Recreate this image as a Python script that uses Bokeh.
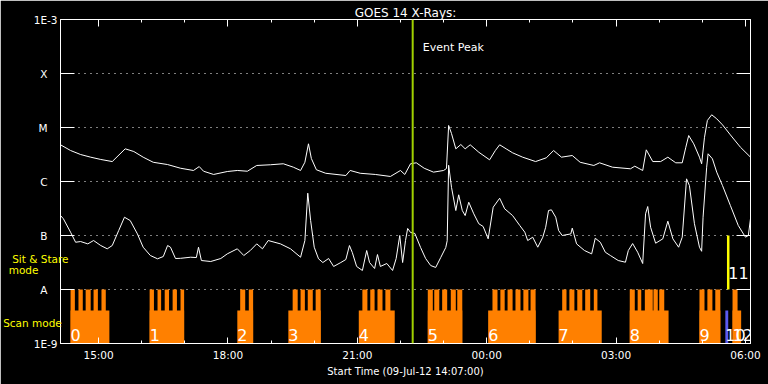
from bokeh.plotting import figure
from bokeh.models import (FixedTicker, LinearAxis, LogAxis, Label, LabelSet,
                          ColumnDataSource, Span, BasicTickFormatter)
from bokeh.embed import file_html
from bokeh.resources import INLINE
from bokeh.core.properties import value

FONT = "DejaVu Sans"

# ---------------- data ----------------
START = "14:07"
END = "06:07"
EVENT_PEAK = "22:17"

# GOES 1-8 A (upper curve), W/m^2
up_t = ["14:07","14:21","14:35","14:49","15:03","15:19","15:37","15:49","16:02","16:16",
        "16:36","16:54","17:12","17:20","17:26","17:40","17:59","18:13","18:27","18:40",
        "18:59","19:17","19:31","19:41","19:47","19:52","19:56","20:03","20:16","20:44",
        "20:50","21:04","21:25","21:46","22:00","22:06","22:14","22:22","22:33","22:46",
        "23:00","23:04","23:07","23:11","23:17","23:24","23:30","23:37","23:49","00:04",
        "00:12","00:18","00:27","00:36","00:50","01:08","01:23","01:33","01:44","01:59",
        "02:10","02:29","02:37","02:55","03:20","03:26","03:37","03:42","03:51","04:02",
        "04:12","04:23","04:32","04:37","04:41","04:48","04:56","04:59","05:03","05:07",
        "05:13","05:20","05:28","05:39","05:53","06:07"]
up_v = [4.78e-6,3.75e-6,3.16e-6,2.82e-6,2.56e-6,2.34e-6,4.03e-6,3.59e-6,2.82e-6,2.27e-6,
        2.06e-6,1.76e-6,1.60e-6,1.89e-6,1.55e-6,1.35e-6,1.53e-6,1.60e-6,1.55e-6,1.98e-6,
        2.04e-6,2.13e-6,1.84e-6,1.60e-6,2.27e-6,4.99e-6,2.67e-6,1.65e-6,1.42e-6,1.29e-6,
        1.60e-6,1.42e-6,1.35e-6,1.24e-6,1.60e-6,1.35e-6,2.13e-6,2.22e-6,1.76e-6,1.49e-6,
        1.60e-6,1.74e-6,1.09e-5,7.73e-6,4.03e-6,4.84e-6,4.03e-6,4.78e-6,3.48e-6,2.52e-6,
        3.75e-6,4.78e-6,4.03e-6,3.40e-6,2.82e-6,2.34e-6,2.75e-6,3.75e-6,2.82e-6,3.03e-6,
        2.27e-6,1.98e-6,2.22e-6,1.84e-6,1.72e-6,1.92e-6,1.60e-6,3.86e-6,2.34e-6,2.34e-6,
        2.82e-6,2.22e-6,2.22e-6,4.31e-6,7.10e-6,4.99e-6,2.82e-6,2.13e-6,6.60e-6,1.35e-5,
        1.72e-5,1.45e-5,1.12e-5,7.30e-6,4.31e-6,2.82e-6]

# GOES 0.5-4 A (lower curve), W/m^2
lo_t = ["14:07","14:11","14:21","14:28","14:35","14:45","14:53","15:03","15:12","15:19",
        "15:28","15:36","15:44","15:54","16:02","16:12","16:22","16:30","16:36","16:40",
        "16:47","16:54","17:08","17:16","17:19","17:23","17:36","17:50","17:59","18:13",
        "18:22","18:31","18:40","18:48","18:56","19:13","19:27","19:41","19:47","19:51",
        "19:55","20:00","20:06","20:12","20:20","20:27","20:37","20:44","20:49","20:53",
        "20:59","21:07","21:13","21:17","21:24","21:28","21:32","21:41","21:49","21:54",
        "21:59","22:03","22:07","22:10","22:14","22:20","22:28","22:35","22:42","22:49",
        "22:56","23:03","23:05","23:07","23:11","23:17","23:21","23:26","23:30","23:35",
        "23:42","23:49","23:55","00:02","00:09","00:18","00:25","00:36","00:46","00:53",
        "00:57","01:04","01:11","01:18","01:22","01:26","01:30","01:36","01:40","01:45",
        "01:57","01:59","02:05","02:16","02:26","02:31","02:38","02:45","02:52","03:03",
        "03:13","03:17","03:23","03:30","03:37","03:41","03:44","03:48","03:55","04:05",
        "04:12","04:19","04:27","04:32","04:38","04:42","04:49","04:56","04:59","05:01",
        "05:06","05:08","05:14","05:20","05:28","05:39","05:50","06:00","06:04","06:07"]
lo_v = [2.34e-7,2.04e-7,1.15e-7,7.5e-8,7.73e-8,7.0e-8,8.07e-8,6.52e-8,5.67e-8,6.52e-8,
        1.24e-7,2.18e-7,1.89e-7,1.07e-7,6.07e-8,4.26e-8,3.70e-8,4.08e-8,6.52e-8,6.07e-8,
        3.75e-8,3.78e-8,3.96e-8,3.91e-8,6.07e-8,3.44e-8,3.30e-8,3.75e-8,4.57e-8,5.67e-8,
        4.26e-8,5.27e-8,7.0e-8,5.67e-8,8.07e-8,7.0e-8,5.67e-8,3.96e-8,8.07e-8,6.07e-7,
        1.89e-7,6.07e-8,3.70e-8,3.16e-8,3.75e-8,2.67e-8,3.16e-8,3.59e-8,6.52e-8,4.84e-8,
        2.67e-8,2.25e-8,5.27e-8,3.16e-8,2.45e-8,4.44e-8,2.67e-8,3.03e-8,2.25e-8,3.75e-8,
        1.0e-7,3.16e-8,8.07e-8,1.35e-7,1.14e-7,1.09e-7,5.99e-8,3.75e-8,2.78e-8,2.56e-8,
        3.91e-8,5.99e-8,8.0e-8,2.0e-6,7.8e-7,2.90e-7,5.67e-7,2.90e-7,2.34e-7,4.13e-7,
        2.52e-7,1.65e-7,1.47e-7,8.68e-8,3.34e-7,4.9e-7,3.12e-7,2.34e-7,1.53e-7,1.15e-7,
        8.07e-8,9.3e-8,6.07e-8,9.3e-8,1.42e-7,2.90e-7,2.99e-7,2.18e-7,1.24e-7,1.0e-7,
        1.07e-7,1.37e-7,7.0e-8,5.27e-8,4.57e-8,8.9e-8,7.5e-8,4.9e-8,4.26e-8,3.44e-8,
        3.2e-8,5.27e-8,7.10e-8,4.9e-8,3.03e-8,2.52e-7,3.44e-7,1.42e-7,7.2e-8,8.68e-8,
        1.84e-7,8.68e-8,6.07e-8,9.3e-8,1.12e-6,8.42e-7,1.65e-7,6.07e-8,5.1e-8,2.18e-7,
        1.84e-6,3.26e-6,2.63e-6,1.49e-6,8.42e-7,3.59e-7,1.53e-7,9.3e-8,1.0e-7,2.06e-7]

# Scan-mode observation blocks
scan_id = ["0", "1", "2", "3", "4", "5", "6", "7", "8", "9", "12"]
scan_start = ["14:21","16:11","18:13","19:24","21:02","22:38","00:02","01:40","03:19","04:56","05:42"]
scan_end = ["15:15","16:59","18:35","20:09","21:52","23:26","01:08","02:40","04:13","05:25","05:54"]
raster_start = ["14:21","14:32","14:42","14:53","15:04",
                "16:11","16:22","16:32","16:43","16:54",
                "18:17","18:29",
                "19:30","19:41","19:51","20:02",
                "21:07","21:18","21:28","21:39",
                "22:38","22:47","22:58","23:10","23:19",
                "00:08","00:19","00:29","00:40","00:51","01:01",
                "01:45","01:55","02:06","02:17","02:29",
                "03:19","03:30","03:40","03:52","04:00",
                "04:56","05:07","05:18",
                "05:42"]
raster_end = ["14:27","14:38","14:49","14:59","15:10",
              "16:17","16:27","16:38","16:49","16:59",
              "18:24","18:35",
              "19:37","19:47","19:58","20:09",
              "21:14","21:24","21:35","21:46",
              "22:45","22:54","23:05","23:17","23:26",
              "00:15","00:25","00:36","00:47","00:58","01:08",
              "01:51","02:02","02:13","02:24","02:34",
              "03:26","03:35","03:51","03:58","04:07",
              "05:03","05:14","05:25",
              "05:49"]
other_id = ["10"]
other_start = ["05:32"]
other_end = ["05:36"]
sns_id = ["11"]
sns_time = ["05:36"]

FLOOR = 1e-9
SCAN_LEVEL = 4.1e-9
RASTER_LEVEL = 1e-8
SNS_LEVEL = 1e-7
Y_MAX = 1e-3

x_tick_hours = [15, 18, 21, 24, 27, 30]
x_tick_labels = ["15:00", "18:00", "21:00", "00:00", "03:00", "06:00"]
x_minor_hours = list(range(15, 31))
y_ticks = [1e-9, 1e-8, 1e-7, 1e-6, 1e-5, 1e-4, 1e-3]
y_tick_labels = ["1E-9", "A", "B", "C", "M", "X", "1E-3"]

# mode captions on the left margin (vertical anchor in flux units)
mode_label_y = [3.75e-8, 2.34e-8, 2.35e-9]
mode_labels = ["Sit & Stare", "mode", "Scan mode"]


def hrs(s):
    h, m = map(int, s.split(":"))
    t = h + m / 60.0
    return t + 24 if t < 14 else t


NB = "\u00a0"

# ---------------- figure ----------------
p = figure(width=768, height=384, output_backend="svg", toolbar_location=None,
           title="GOES 14 X-Rays:",
           x_range=(hrs(START), hrs(END)), y_range=(FLOOR, Y_MAX), y_axis_type="log",
           min_border_left=60, min_border_right=18, min_border_top=19, min_border_bottom=41,
           background_fill_color="black", border_fill_color="black",
           outline_line_color="white", outline_line_width=1)

p.title.align = "center"
p.title.text_font = FONT
p.title.text_font_size = "12px"
p.title.text_font_style = "normal"
p.title.text_color = "white"
p.title.standoff = 0
p.title.offset = 0

xticker = FixedTicker(ticks=x_tick_hours, minor_ticks=x_minor_hours)
yticker = FixedTicker(ticks=y_ticks, minor_ticks=[])

xa = p.xaxis[0]
xa.ticker = xticker
xa.major_label_overrides = dict(zip(x_tick_hours, x_tick_labels))
xa.axis_label = "Start Time (09-Jul-12 14:07:00)"
xa.axis_label_text_font = FONT
xa.axis_label_text_font_style = "normal"
xa.axis_label_text_font_size = "10px"
xa.axis_label_text_color = "white"
xa.axis_label_standoff = 2
xa.major_label_text_font = FONT
xa.major_label_text_font_size = "10.5px"
xa.major_label_text_color = "white"
xa.major_label_standoff = 5
xa.major_tick_in = 6
xa.major_tick_out = 0
xa.minor_tick_in = 3
xa.minor_tick_out = 0
xa.axis_line_color = "white"
xa.major_tick_line_color = "white"
xa.minor_tick_line_color = "white"

ya = p.yaxis[0]
ya.ticker = yticker
ya.formatter = BasicTickFormatter()
ya.major_label_overrides = {t: (l if len(l) > 1 else l + NB * 3)
                            for t, l in zip(y_ticks, y_tick_labels)}
ya.major_label_text_font = FONT
ya.major_label_text_font_size = "10.5px"
ya.major_label_text_color = "white"
ya.major_label_standoff = 3
ya.major_tick_in = 14
ya.major_tick_out = 0
ya.minor_tick_in = 0
ya.minor_tick_out = 0
ya.minor_tick_line_color = None
ya.axis_line_color = "white"
ya.major_tick_line_color = "white"

# yellow mode captions: an extra tick-less axis in the left margin
pads = ["", NB * 9, NB * 2]
mode_axis = LogAxis(ticker=FixedTicker(ticks=mode_label_y, minor_ticks=[]),
                    formatter=BasicTickFormatter(),
                    major_label_overrides={t: l + pd for t, l, pd in
                                           zip(mode_label_y, mode_labels, pads)},
                    major_label_text_font=FONT, major_label_text_font_size="10.5px",
                    major_label_text_color="#ffff00", major_label_standoff=-38,
                    major_tick_line_color=None, minor_tick_line_color=None,
                    axis_line_color=None, major_tick_in=0, major_tick_out=0,
                    minor_tick_in=0, minor_tick_out=0)
p.add_layout(mode_axis, "left")

top = LinearAxis(ticker=xticker, formatter=BasicTickFormatter(),
                 major_label_text_font_size="2px", major_label_text_color=None,
                 major_tick_in=7, major_tick_out=0, minor_tick_in=3, minor_tick_out=0,
                 axis_line_color="white", major_tick_line_color="white",
                 minor_tick_line_color="white", major_label_standoff=0)
p.add_layout(top, "above")
right = LogAxis(ticker=yticker, formatter=BasicTickFormatter(),
                major_label_text_font_size="2px", major_label_text_color=None,
                major_tick_in=14, major_tick_out=0, minor_tick_in=0, minor_tick_out=0,
                minor_tick_line_color=None,
                axis_line_color="white", major_tick_line_color="white",
                major_label_standoff=0)
p.add_layout(right, "right")

p.xgrid.visible = False
p.ygrid.ticker = yticker
p.ygrid.grid_line_color = "white"
p.ygrid.grid_line_dash = "1 5"
p.ygrid.grid_line_width = 1

# ---------------- observation blocks ----------------
ORANGE = "#ff8000"
p.quad(left=[hrs(s) for s in scan_start], right=[hrs(s) for s in scan_end],
       bottom=FLOOR, top=SCAN_LEVEL, fill_color=ORANGE, line_color=None)
p.quad(left=[hrs(s) for s in raster_start], right=[hrs(s) for s in raster_end],
       bottom=FLOOR, top=RASTER_LEVEL, fill_color=ORANGE, line_color=None)
p.quad(left=[hrs(s) for s in other_start], right=[hrs(s) for s in other_end],
       bottom=FLOOR, top=SCAN_LEVEL, fill_color="#5a5af0", line_color=None)
p.segment(x0=[hrs(s) for s in sns_time], y0=RASTER_LEVEL,
          x1=[hrs(s) for s in sns_time], y1=SNS_LEVEL, line_color="#ffff00", line_width=2.5)

# ---------------- GOES curves ----------------
p.line([hrs(s) for s in up_t], up_v, line_color="white", line_width=1)
p.line([hrs(s) for s in lo_t], lo_v, line_color="white", line_width=1)

p.add_layout(Span(location=hrs(EVENT_PEAK), dimension="height",
                  line_color="#a0d000", line_width=2))

# ---------------- labels ----------------
lab_src = ColumnDataSource(dict(
    x=[hrs(s) for s in scan_start] + [hrs(s) for s in other_start],
    y=[FLOOR] * (len(scan_start) + len(other_start)),
    text=scan_id + other_id))
p.add_layout(LabelSet(x="x", y="y", text="text", source=lab_src, y_offset=3,
                      text_color="white", text_font=value(FONT), text_font_size="16px",
                      text_baseline="alphabetic"))
sns_src = ColumnDataSource(dict(x=[hrs(s) for s in sns_time], y=[RASTER_LEVEL] * len(sns_time),
                                text=sns_id))
p.add_layout(LabelSet(x="x", y="y", text="text", source=sns_src, y_offset=11,
                      text_color="white", text_font=value(FONT), text_font_size="16px",
                      text_baseline="alphabetic"))

p.add_layout(Label(x=hrs(EVENT_PEAK), y=Y_MAX, x_offset=10, y_offset=-28, text="Event Peak",
                   text_color="white", text_font=FONT, text_font_size="11px",
                   text_baseline="alphabetic"))

open("out.html", "w").write(file_html(p, INLINE))
